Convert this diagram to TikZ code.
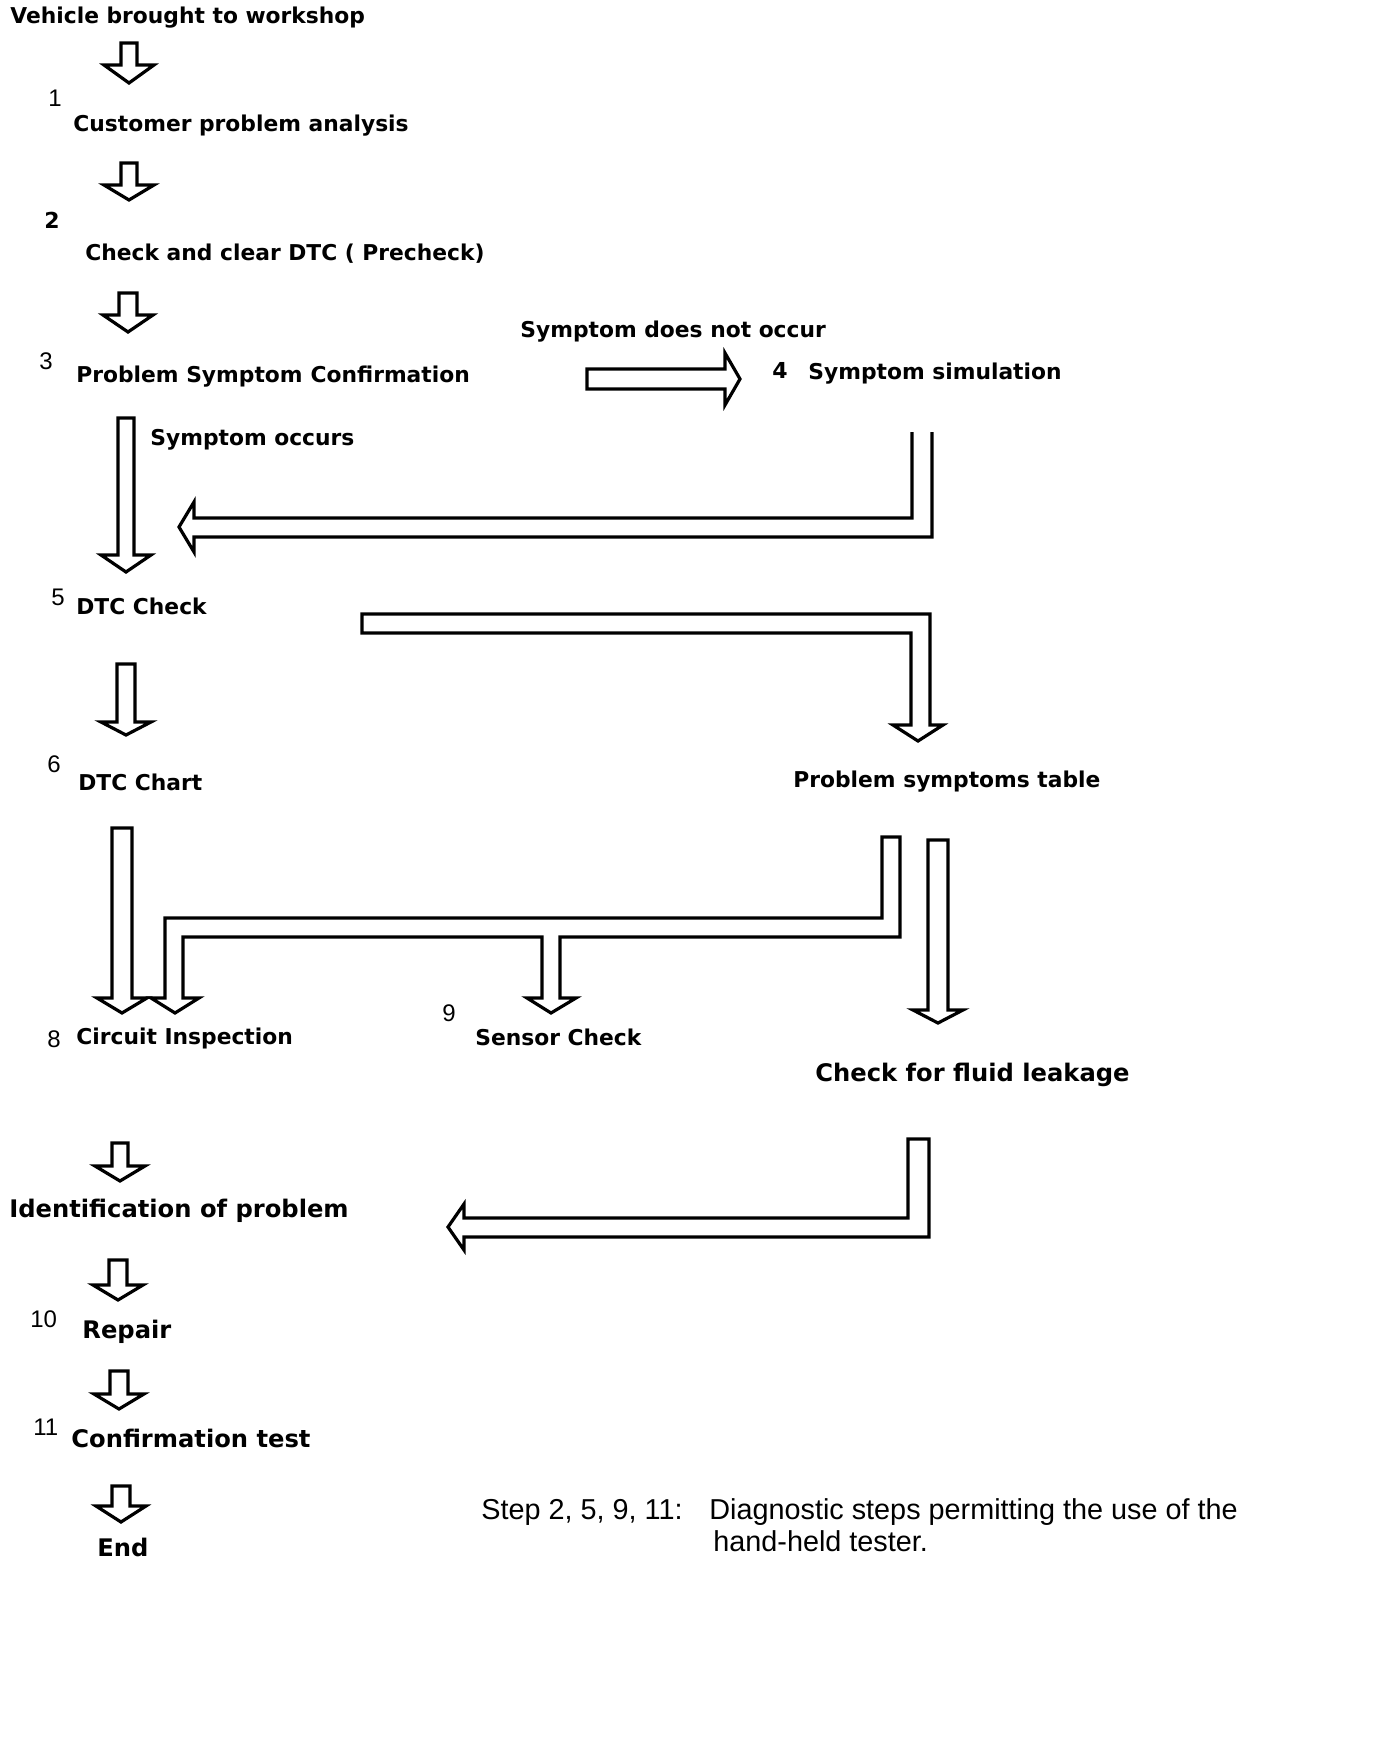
\documentclass[tikz,border=0pt]{standalone}
\usepackage{fontspec}
\setmainfont{DejaVu Sans}
\newfontfamily\numfont{Liberation Sans}
\usetikzlibrary{calc}
\tikzset{
  lbl/.style={anchor=base west, inner sep=0pt, font=\bfseries\fontsize{10.9}{13}\selectfont},
  lblbig/.style={anchor=base west, inner sep=0pt, font=\bfseries\fontsize{12.1}{14}\selectfont},
  num/.style={anchor=base west, inner sep=0pt, font=\numfont\fontsize{12}{14}\selectfont},
  numb/.style={anchor=base west, inner sep=0pt, font=\bfseries\fontsize{11}{13}\selectfont},
  note/.style={anchor=base west, inner sep=0pt, font=\numfont\fontsize{14.4}{17}\selectfont},
  blk/.style={draw=black, line width=1.6pt, line join=miter, fill=white},
}
% vertical hollow block arrow: #1 top coordinate, #2 tip coordinate, #3 shaft half width, #4 head length
\newcommand\varrow[4]{%
  \draw[blk] ($(#1)+(-#3,0)$) -- ($(#1|-#2)+(-#3,-#4)$) -- ($(#1|-#2)+(-25,-#4)$) -- (#1|-#2)
    -- ($(#1|-#2)+(25,-#4)$) -- ($(#1|-#2)+(#3,-#4)$) -- ($(#1)+(#3,0)$) -- cycle;}
\begin{document}
\begin{tikzpicture}[x=0.5pt,y=-0.5pt]
\useasboundingbox[fill=white] (0,0) rectangle (1376,1756);

% ---------- texts ----------
\node[lbl] (veh) at (10,24) {Vehicle brought to workshop};
\node[num] (n1) at (48,106) {1};
\node[lbl] (cpa) at (73,131) {Customer problem analysis};
\node[numb] (n2) at (44,228) {2};
\node[lbl] (ccd) at (85,260) {Check and clear DTC ( Precheck)};
\node[num] (n3) at (39,369) {3};
\node[lbl] (psc) at (76,382) {Problem Symptom\hspace{4pt}Confirmation};
\node[lbl] (sdno) at (520,337) {Symptom does not occur};
\node[numb] (n4) at (772,378) {4};
\node[lbl] (ssim) at (808,379) {Symptom simulation};
\node[lbl] (socc) at (150,445) {Symptom occurs};
\node[num] (n5) at (51,605) {5};
\node[lbl] (dtcc) at (76,614) {DTC Check};
\node[num] (n6) at (47,772) {6};
\node[lbl] (dtch) at (78,790) {DTC Chart};
\node[lbl] (pst) at (793,787) {Problem symptoms table};
\node[num] (n8) at (47,1047) {8};
\node[lbl] (ci) at (76,1044) {Circuit Inspection};
\node[num] (n9) at (442,1021) {9};
\node[lbl] (sc) at (475,1045) {Sensor Check};
\node[lblbig] (cfl) at (815,1081) {Check for fluid leakage};
\node[lblbig] (iop) at (9,1217) {Identification of problem};
\node[num] (n10) at (30,1327) {10};
\node[lblbig] (rep) at (82,1338) {Repair};
\node[num] (n11) at (33,1435) {11};
\node[lblbig] (ct) at (71,1447) {Confirmation test};
\node[lblbig] (endn) at (97,1556) {End};
\node[note] (step) at (481,1519) {Step 2, 5, 9, 11:};
\node[note] (diag) at (709,1519) {Diagnostic steps permitting the use of the};
\node[note] (hht) at (713,1551) {hand-held tester.};

% ---------- straight block arrows ----------
\coordinate (a1s) at (129,43);   \coordinate (a1e) at (129,83);
\coordinate (a2s) at (129,163);  \coordinate (a2e) at (129,200);
\coordinate (a3s) at (128,293);  \coordinate (a3e) at (128,332);
\coordinate (a4s) at (126,418);  \coordinate (a4e) at (126,572);
\coordinate (a5s) at (126,664);  \coordinate (a5e) at (126,735);
\coordinate (a6s) at (122,828);  \coordinate (a6e) at (122,1013);
\coordinate (a7s) at (938,840);  \coordinate (a7e) at (938,1023);
\coordinate (a8s) at (120,1143); \coordinate (a8e) at (120,1181);
\coordinate (a9s) at (118,1260); \coordinate (a9e) at (118,1300);
\coordinate (a10s) at (119,1371); \coordinate (a10e) at (119,1409);
\coordinate (a11s) at (121,1486); \coordinate (a11e) at (121,1522);
\varrow{a1s}{a1e}{8}{18}
\varrow{a2s}{a2e}{8}{15}
\varrow{a3s}{a3e}{9}{17}
\varrow{a4s}{a4e}{8}{17}
\varrow{a5s}{a5e}{9}{13}
\varrow{a6s}{a6e}{10}{15}
\varrow{a7s}{a7e}{10}{13}
\varrow{a8s}{a8e}{8}{15}
\varrow{a9s}{a9e}{9}{15}
\varrow{a10s}{a10e}{9}{15}
\varrow{a11s}{a11e}{9}{16}

% horizontal arrow: symptom does not occur
\coordinate (hs) at (587,379); \coordinate (he) at (740,379);
\draw[blk] ($(hs)+(0,-10)$) -- ($(he)+(-15,-10)$) -- ($(he)+(-15,-26)$) -- (he)
  -- ($(he)+(-15,26)$) -- ($(he)+(-15,10)$) -- ($(hs)+(0,10)$) -- cycle;

% pipe: symptom simulation -> DTC check (open top)
\draw[blk] (912,432) -- (912,518) -- (194,518) -- (194,502) -- (179,527) -- (194,552)
  -- (194,537) -- (932,537) -- (932,432);

% pipe: DTC check -> problem symptoms table
\draw[blk] (362,614) -- (930,614) -- (930,725) -- (943,725) -- (918,741) -- (893,725)
  -- (911,725) -- (911,633) -- (362,633) -- cycle;

% pipe: problem symptoms table -> circuit inspection & sensor check
\draw[blk] (882,837) -- (900,837) -- (900,937) -- (560,937) -- (560,998) -- (576,998)
  -- (551,1013) -- (527,998) -- (542,998) -- (542,937) -- (183,937) -- (183,998)
  -- (199,998) -- (175,1013) -- (151,998) -- (165,998) -- (165,918) -- (882,918) -- cycle;

% pipe: fluid leakage -> identification of problem
\draw[blk] (908,1139) -- (929,1139) -- (929,1237) -- (464,1237) -- (464,1250)
  -- (448,1227) -- (464,1204) -- (464,1218) -- (908,1218) -- cycle;
\end{tikzpicture}
\end{document}
